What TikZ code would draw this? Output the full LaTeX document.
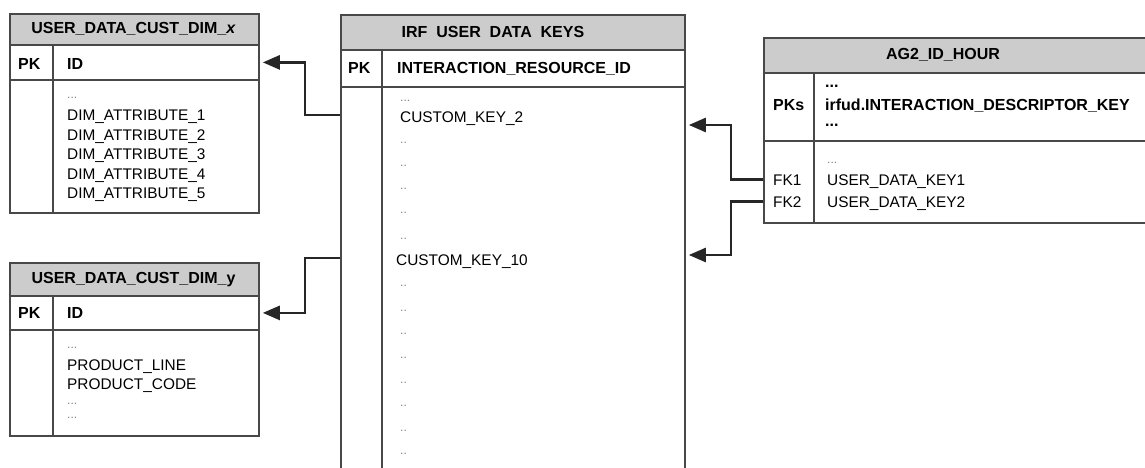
\documentclass[tikz,border=0pt]{standalone}
\usepackage{fontspec}
\setmainfont{Liberation Sans}
\usetikzlibrary{arrows.meta}
\definecolor{hdrgray}{RGB}{204,204,204}
\definecolor{edge}{RGB}{72,72,72}
\definecolor{dotgray}{RGB}{130,130,130}

\begin{document}
\begin{tikzpicture}[x=1pt,y=-1pt,
  cell/.style={draw=edge, line width=1.8pt, inner sep=0pt, anchor=north west},
  hdr/.style={cell, fill=hdrgray},
  title/.style={font=\fontsize{16}{19}\selectfont\bfseries, inner sep=0pt},
  keytxt/.style={font=\fontsize{16}{19}\selectfont\bfseries, inner sep=0pt, anchor=base west},
  txt/.style={font=\fontsize{15.4}{18}\selectfont, inner sep=0pt, anchor=base west},
  dots/.style={txt, font=\fontsize{12}{14}\selectfont, text=dotgray},
  divider/.style={draw=edge, line width=1.8pt},
  link/.style={draw=black!85, line width=2.6pt, -{Triangle[length=17pt,width=14pt]}, shorten >=3pt},
]
\useasboundingbox (0,0) rectangle (1145,468);

% ---------- USER_DATA_CUST_DIM_x ----------
\node[hdr, minimum width=249pt, minimum height=31pt] (xh) at (9,13) {};
\node[cell, minimum width=249pt, minimum height=35pt] (xk) at (9,44) {};
\node[cell, minimum width=249pt, minimum height=133pt] (xb) at (9,79) {};
\draw[divider] (xk.north west) ++(44,0) coordinate (xd1) -- (xd1 |- xb.south);
\node[title] (xt) at (133.5,29) {USER\_DATA\_CUST\_DIM\_\textit{x}};
\node[keytxt] (xpk) at (18,70) {PK};
\node[keytxt] (xid) at (67,70) {ID};
\node[dots] (xdots) at (67,99) {...};
\foreach \i in {1,...,5}
  \node[txt] (xa\i) at (67,{121+19.4*(\i-1)}) {DIM\_ATTRIBUTE\_\i};

% ---------- USER_DATA_CUST_DIM_y ----------
\node[hdr, minimum width=249pt, minimum height=33pt] (yh) at (9,262) {};
\node[cell, minimum width=249pt, minimum height=34pt] (yk) at (9,295) {};
\node[cell, minimum width=249pt, minimum height=106pt] (yb) at (9,329) {};
\draw[divider] (yk.north west) ++(44,0) coordinate (yd1) -- (yd1 |- yb.south);
\node[title] (yt) at (133.5,280) {USER\_DATA\_CUST\_DIM\_y};
\node[keytxt] (ypk) at (18,318) {PK};
\node[keytxt] (yid) at (67,318) {ID};
\node[dots] (ydots1) at (67,348) {...};
\node[txt] (yline) at (67,370) {PRODUCT\_LINE};
\node[txt] (ycode) at (67,389) {PRODUCT\_CODE};
\node[dots] (ydots2) at (67,404) {...};
\node[dots] (ydots3) at (67,418) {...};

% ---------- IRF USER DATA KEYS ----------
\node[hdr, minimum width=344pt, minimum height=35pt] (irfh) at (340,14) {};
\node[cell, minimum width=344pt, minimum height=400pt] (irfb) at (340,86) {};
\node[cell, minimum width=344pt, minimum height=37pt] (irfk) at (340,49) {};
\draw[divider] (irfk.north west) ++(42,0) coordinate (irfd) -- (irfd |- irfb.south);
\node[title] (irft) at (493,32) {IRF\ \ USER\ \ DATA\ \ KEYS};
\node[keytxt] (irfpk) at (348,74) {PK};
\node[keytxt] (irfid) at (397,74) {INTERACTION\_RESOURCE\_ID};
\node[dots] (irfdots) at (400,102) {...};
\node[txt] (ck2) at (400,123) {CUSTOM\_KEY\_2};
\foreach \y [count=\i] in {143,166,189,213,239}
  \node[dots] (da\i) at (400,\y) {..};
\node[txt] (ck10) at (396,265) {CUSTOM\_KEY\_10};
\foreach \y [count=\i] in {286,311,334,358,383,406,431,454}
  \node[dots] (db\i) at (400,\y) {..};

% ---------- AG2_ID_HOUR ----------
\node[hdr, minimum width=400pt, minimum height=35pt] (agh) at (763,37) {};
\node[cell, minimum width=400pt, minimum height=68pt] (agk) at (763,72) {};
\node[cell, minimum width=400pt, minimum height=82pt] (agb) at (763,140) {};
\draw[divider] (agk.north west) ++(51,0) coordinate (agd) -- (agd |- agb.south);
\node[title] (agt) at (943,55) {AG2\_ID\_HOUR};
\node[keytxt] (agpk) at (773,111) {PKs};
\node[keytxt] (agdots1) at (825,88) {...};
\node[keytxt] (agkey) at (825,111) {irfud.INTERACTION\_DESCRIPTOR\_KEY};
\node[keytxt] (agdots2) at (825,127) {...};
\node[dots] (agdots3) at (827,163) {...};
\node[txt] (fk1) at (773,185) {FK1};
\node[txt] (udk1) at (827,185) {USER\_DATA\_KEY1};
\node[txt] (fk2) at (773,207) {FK2};
\node[txt] (udk2) at (827,207) {USER\_DATA\_KEY2};

% ---------- relationships ----------
\draw[link] ([yshift=-29pt]irfb.north west) -- ++(-35,0) |- (xk.east);
\draw[link] ([yshift=-172pt]irfb.north west) -- ++(-35,0) |- (yk.east);
\draw[link] (agb.west |- fk1) -- ++(-32,0) |- ([yshift=-39pt]irfb.north east);
\draw[link] (agb.west |- fk2) -- ++(-32,0) |- ([yshift=-169pt]irfb.north east);
\end{tikzpicture}
\end{document}
